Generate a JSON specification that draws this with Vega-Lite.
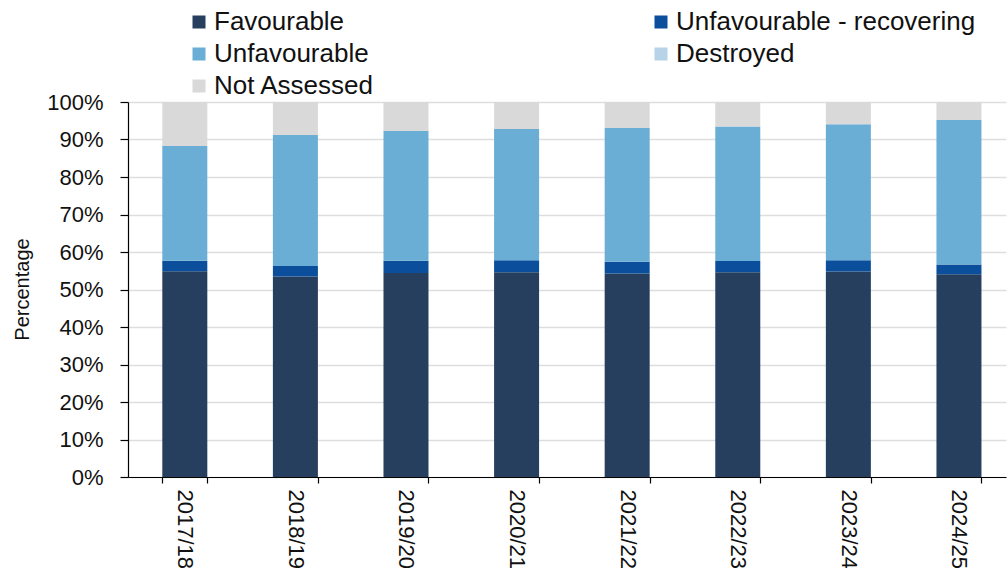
{
  "$schema": "https://vega.github.io/schema/vega-lite/v6.json",
  "width": 878,
  "height": 375,
  "autosize": {"type": "none"},
  "padding": {"left": 128, "top": 102, "right": 1, "bottom": 91},
  "background": "white",
  "config": {
    "font": "Liberation Sans",
    "view": {"stroke": null}
  },
  "data": {
    "values": [
      {"year": "2017/18", "status": "Favourable", "rank": 1, "pct": 54.9},
      {"year": "2017/18", "status": "Unfavourable - recovering", "rank": 2, "pct": 2.8},
      {"year": "2017/18", "status": "Unfavourable", "rank": 3, "pct": 30.6},
      {"year": "2017/18", "status": "Destroyed", "rank": 4, "pct": 0},
      {"year": "2017/18", "status": "Not Assessed", "rank": 5, "pct": 11.7},
      {"year": "2018/19", "status": "Favourable", "rank": 1, "pct": 53.5},
      {"year": "2018/19", "status": "Unfavourable - recovering", "rank": 2, "pct": 2.8},
      {"year": "2018/19", "status": "Unfavourable", "rank": 3, "pct": 34.9},
      {"year": "2018/19", "status": "Destroyed", "rank": 4, "pct": 0},
      {"year": "2018/19", "status": "Not Assessed", "rank": 5, "pct": 8.8},
      {"year": "2019/20", "status": "Favourable", "rank": 1, "pct": 54.4},
      {"year": "2019/20", "status": "Unfavourable - recovering", "rank": 2, "pct": 3.3},
      {"year": "2019/20", "status": "Unfavourable", "rank": 3, "pct": 34.6},
      {"year": "2019/20", "status": "Destroyed", "rank": 4, "pct": 0},
      {"year": "2019/20", "status": "Not Assessed", "rank": 5, "pct": 7.7},
      {"year": "2020/21", "status": "Favourable", "rank": 1, "pct": 54.6},
      {"year": "2020/21", "status": "Unfavourable - recovering", "rank": 2, "pct": 3.2},
      {"year": "2020/21", "status": "Unfavourable", "rank": 3, "pct": 35.0},
      {"year": "2020/21", "status": "Destroyed", "rank": 4, "pct": 0},
      {"year": "2020/21", "status": "Not Assessed", "rank": 5, "pct": 7.2},
      {"year": "2021/22", "status": "Favourable", "rank": 1, "pct": 54.3},
      {"year": "2021/22", "status": "Unfavourable - recovering", "rank": 2, "pct": 3.1},
      {"year": "2021/22", "status": "Unfavourable", "rank": 3, "pct": 35.7},
      {"year": "2021/22", "status": "Destroyed", "rank": 4, "pct": 0},
      {"year": "2021/22", "status": "Not Assessed", "rank": 5, "pct": 6.9},
      {"year": "2022/23", "status": "Favourable", "rank": 1, "pct": 54.6},
      {"year": "2022/23", "status": "Unfavourable - recovering", "rank": 2, "pct": 3.0},
      {"year": "2022/23", "status": "Unfavourable", "rank": 3, "pct": 35.9},
      {"year": "2022/23", "status": "Destroyed", "rank": 4, "pct": 0},
      {"year": "2022/23", "status": "Not Assessed", "rank": 5, "pct": 6.5},
      {"year": "2023/24", "status": "Favourable", "rank": 1, "pct": 54.8},
      {"year": "2023/24", "status": "Unfavourable - recovering", "rank": 2, "pct": 3.0},
      {"year": "2023/24", "status": "Unfavourable", "rank": 3, "pct": 36.3},
      {"year": "2023/24", "status": "Destroyed", "rank": 4, "pct": 0},
      {"year": "2023/24", "status": "Not Assessed", "rank": 5, "pct": 5.9},
      {"year": "2024/25", "status": "Favourable", "rank": 1, "pct": 54.1},
      {"year": "2024/25", "status": "Unfavourable - recovering", "rank": 2, "pct": 2.6},
      {"year": "2024/25", "status": "Unfavourable", "rank": 3, "pct": 38.5},
      {"year": "2024/25", "status": "Destroyed", "rank": 4, "pct": 0},
      {"year": "2024/25", "status": "Not Assessed", "rank": 5, "pct": 4.8}
    ]
  },
  "mark": {"type": "bar", "strokeWidth": 0},
  "encoding": {
    "x": {
      "field": "year",
      "type": "nominal",
      "sort": null,
      "scale": {"paddingInner": 0.593, "paddingOuter": 0.266, "align": 0.583},
      "axis": {
        "title": null,
        "labelAngle": 90,
        "labelFontSize": 22,
        "labelColor": "#111111",
        "labelPadding": 6,
        "tickBand": "extent",
        "tickSize": 6,
        "tickColor": "#000000",
        "tickWidth": 1.2,
        "domainColor": "#000000",
        "domainWidth": 1.2,
        "grid": false
      }
    },
    "y": {
      "field": "pct",
      "type": "quantitative",
      "stack": "zero",
      "scale": {"domain": [0, 100], "nice": false},
      "axis": {
        "title": "Percentage",
        "titleFontSize": 20,
        "titleFontWeight": "normal",
        "titleColor": "#111111",
        "titleX": -106,
        "titleY": 187,
        "titleBaseline": "middle",
        "values": [0, 10, 20, 30, 40, 50, 60, 70, 80, 90, 100],
        "labelExpr": "datum.value + '%'",
        "labelFontSize": 22,
        "labelColor": "#111111",
        "labelPadding": 17,
        "tickSize": 8,
        "tickColor": "#000000",
        "tickWidth": 1.2,
        "domainColor": "#000000",
        "domainWidth": 1.2,
        "grid": true,
        "gridColor": "#dedede",
        "gridWidth": 1.5
      }
    },
    "color": {
      "field": "status",
      "type": "nominal",
      "scale": {
        "domain": ["Favourable", "Unfavourable - recovering", "Unfavourable", "Destroyed", "Not Assessed"],
        "range": ["#263f5e", "#0b4f9c", "#6aaed6", "#b6d3e8", "#d9d9d9"]
      },
      "legend": {
        "title": null,
        "orient": "none",
        "legendX": 58,
        "legendY": -93,
        "direction": "horizontal",
        "columns": 2,
        "columnPadding": 273,
        "rowPadding": 6,
        "symbolType": "square",
        "symbolSize": 169,
        "symbolStrokeWidth": 0,
        "labelFontSize": 26,
        "labelColor": "#111111",
        "labelOffset": 2,
        "labelLimit": 400
      }
    },
    "order": {"field": "rank", "type": "quantitative"}
  }
}
